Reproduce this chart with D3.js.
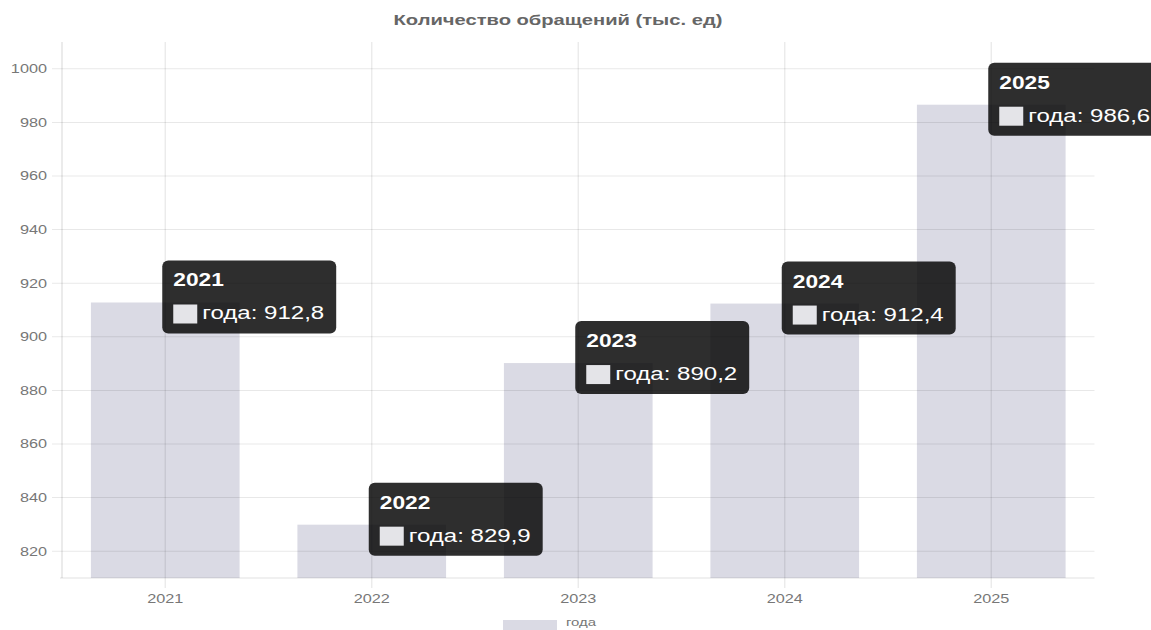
<!DOCTYPE html>
<html>
<head>
<meta charset="utf-8">
<script src="https://cdn.jsdelivr.net/npm/d3@7"></script>
<style>
  body { margin: 0; background: #fff; }
  svg { display: block; }
</style>
</head>
<body>
<div id="chart"></div>
<script>
// data
const years = ["2021", "2022", "2023", "2024", "2025"];
const values = [912.8, 829.9, 890.2, 912.4, 986.6];
const yTicks = [820, 840, 860, 880, 900, 920, 940, 960, 980, 1000];
const seriesName = "года";
const chartTitle = "Количество обращений (тыс. ед)";

var width = 1151;
var height = 630;
// the screenshot is stretched sideways, so draw narrow and stretch the svg
var SX = 1.3;
var iw = width / SX;

var margin = {top: 42, bottom: 52, left: 62 / SX, right: iw - 1094.5 / SX};
var font = "'Liberation Sans', Arial, sans-serif";

var svg = d3.select('#chart')
  .append('svg')
  .attr('width', width)
  .attr('height', height)
  .attr('viewBox', `0 0 ${iw} ${height}`)
  .attr('preserveAspectRatio', 'none');

var x = d3.scaleBand()
  .domain(years)
  .range([margin.left, iw - margin.right]);

var y = d3.scaleLinear()
  .domain([810, 1010])
  .range([height - margin.bottom, margin.top]);

var barW = x.bandwidth() * 0.72;

// title
svg.append('text')
  .attr('x', 558 / SX)
  .attr('y', 25)
  .attr('text-anchor', 'middle')
  .attr('font-family', font)
  .attr('font-size', 15.5)
  .attr('font-weight', 'bold')
  .attr('fill', '#666')
  .text(chartTitle);

// bars
svg.append('g')
  .selectAll('rect')
  .data(values)
  .join('rect')
  .attr('x', (d, i) => x(years[i]) + (x.bandwidth() - barW) / 2)
  .attr('width', barW)
  .attr('y', d => y(d))
  .attr('height', d => y(810) - y(d))
  .attr('fill', '#dadae4');

// grid
var grid = svg.append('g')
  .attr('stroke', 'rgba(0,0,0,0.09)')
  .attr('stroke-width', 1);

grid.selectAll('.hline')
  .data(yTicks)
  .join('line')
  .attr('x1', margin.left - 10 / SX)
  .attr('x2', iw - margin.right)
  .attr('y1', d => y(d))
  .attr('y2', d => y(d));

grid.selectAll('.vline')
  .data(years)
  .join('line')
  .attr('x1', d => x(d) + x.bandwidth() / 2)
  .attr('x2', d => x(d) + x.bandwidth() / 2)
  .attr('y1', margin.top)
  .attr('y2', height - margin.bottom + 10);

// axes lines
svg.append('line')
  .attr('x1', margin.left).attr('x2', margin.left)
  .attr('y1', margin.top).attr('y2', height - margin.bottom)
  .attr('stroke', 'rgba(0,0,0,0.12)');
svg.append('line')
  .attr('x1', margin.left - 2 / SX).attr('x2', iw - margin.right)
  .attr('y1', height - margin.bottom).attr('y2', height - margin.bottom)
  .attr('stroke', 'rgba(0,0,0,0.12)');

// tick labels
svg.append('g')
  .selectAll('text')
  .data(yTicks)
  .join('text')
  .attr('x', 47 / SX)
  .attr('y', d => y(d) + 4.5)
  .attr('text-anchor', 'end')
  .attr('font-family', font)
  .attr('font-size', 12.5)
  .attr('fill', '#777')
  .text(d => d);

svg.append('g')
  .selectAll('text')
  .data(years)
  .join('text')
  .attr('x', d => x(d) + x.bandwidth() / 2)
  .attr('y', 603)
  .attr('text-anchor', 'middle')
  .attr('font-family', font)
  .attr('font-size', 12.5)
  .attr('fill', '#777')
  .text(d => d);

// legend
var leg = svg.append('g');
leg.append('rect')
  .attr('x', 503 / SX)
  .attr('y', 620)
  .attr('width', 54 / SX)
  .attr('height', 12)
  .attr('fill', '#dadae4');
leg.append('text')
  .attr('x', 566 / SX)
  .attr('y', 626.5)
  .attr('font-family', font)
  .attr('font-size', 11.5)
  .attr('fill', '#777')
  .text(seriesName);

// tooltips
var tips = svg.append('g')
  .selectAll('g')
  .data(values)
  .join('g')
  .attr('transform', (d, i) => `translate(${x(years[i]) + x.bandwidth() / 2 - 3 / SX},${y(d) - 42})`);

tips.append('rect')
  .attr('class', 'tipbg')
  .attr('rx', 6 / SX)
  .attr('ry', 6)
  .attr('height', 73)
  .attr('fill', 'rgba(0,0,0,0.82)');

tips.append('text')
  .attr('x', 11 / SX)
  .attr('y', 26)
  .attr('font-family', font)
  .attr('font-size', 17.5)
  .attr('font-weight', 'bold')
  .attr('fill', '#fff')
  .text((d, i) => years[i]);

tips.append('rect')
  .attr('x', 11 / SX)
  .attr('y', 44)
  .attr('width', 24 / SX)
  .attr('height', 19)
  .attr('fill', '#e4e4e8');

var body = tips.append('text')
  .attr('x', 40 / SX)
  .attr('y', 59)
  .attr('font-family', font)
  .attr('font-size', 18.5)
  .attr('fill', '#fff')
  .text(d => seriesName + ': ' + String(d).replace('.', ','));

body.each(function(d) {
  var w = this.getComputedTextLength();
  d3.select(this.parentNode).select('.tipbg')
    .attr('width', 40 / SX + w + 12 / SX);
});
</script>
</body>
</html>
